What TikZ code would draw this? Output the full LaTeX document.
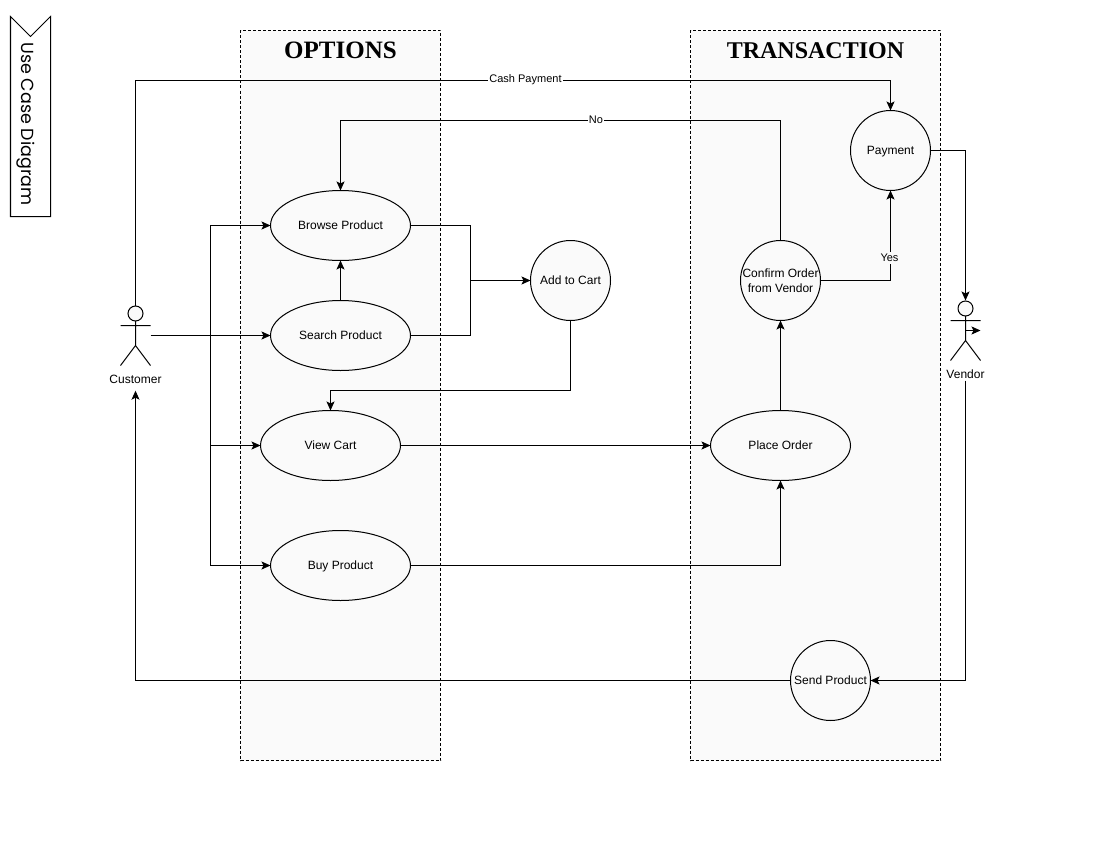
\documentclass[tikz,border=0pt]{standalone}
\usepackage{fontspec}
\setmainfont{Liberation Sans}
\newfontfamily\titlefont{Liberation Serif}
\newfontfamily\bannerfont{Poppins}
\usetikzlibrary{arrows.meta,shapes.geometric,positioning}
\tikzset{
  panel/.style={draw=black,fill=black!2,line width=0.8pt,dash pattern=on 3pt off 2pt},
  conn/.style={draw=black,line width=1pt,-{Stealth[length=9pt,width=8pt,inset=2pt]}},
  plain/.style={draw=black,line width=1pt},
  ucell/.style={ellipse,draw=black,fill=black!2,line width=1pt,minimum width=140pt,minimum height=70pt,inner sep=0pt,outer sep=0pt,font=\fontsize{12}{15}\selectfont,text height=10pt,text depth=2pt},
  ucirc/.style={circle,draw=black,fill=black!2,line width=1pt,minimum size=80pt,inner sep=0pt,outer sep=0pt},
  txt/.style={font=\fontsize{12}{15}\selectfont,align=center,inner sep=0pt,text height=10pt,text depth=2pt},
  edgelabel/.style={txt,font=\fontsize{11}{14}\selectfont,fill=white,inner xsep=1pt,inner ysep=0pt},
  title/.style={font=\titlefont\bfseries\fontsize{25}{25}\selectfont,inner sep=0pt},
  actorbox/.style={minimum width=30pt,minimum height=60pt,inner sep=0pt,outer sep=0pt},
  actorline/.style={draw=black,line width=1pt,fill=black!2}
}
\begin{document}
\begin{tikzpicture}[x=1pt,y=-1pt]
\useasboundingbox (-0.5,-0.5) rectangle (1099.5,850.5);
% panels
\path[panel] (240,30) rectangle (440,760);
\path[panel] (690,30) rectangle (940,760);
\node[title] (optt) at (340,50) {OPTIONS};
\node[title,font=\titlefont\bfseries\fontsize{24}{24}\selectfont] (trans) at (815,50) {TRANSACTION};
% banner
\draw[line width=1pt,fill=white] (10,16) -- (30,36) -- (50,16) -- (50,216) -- (10,216) -- cycle;
\node[rotate=-90,inner sep=0pt,font=\bannerfont\fontsize{17.5}{18}\selectfont] (banner) at (25.5,123.5) {Use Case Diagram};
% use cases
\node[ucell] (browse) at (340,225) {Browse Product};
\node[ucell] (search) at (340,335) {Search Product};
\node[ucell] (view) at (330,445) {View Cart};
\node[ucell] (buy) at (340,565) {Buy Product};
\node[ucell] (place) at (780,445) {Place Order};
\node[ucirc,label={[txt]center:Add to Cart}] (add) at (570,280) {};
\node[ucirc,label={[txt]center:Payment}] (pay) at (890,150) {};
\node[ucirc,label={[txt,text height=,text depth=,yshift=0pt]center:Confirm Order\\from Vendor}] (confirm) at (780,280) {};
\node[ucirc,label={[txt]center:Send Product}] (send) at (830,680) {};
% actors
\node[actorbox] (cust) at (135,335) {};
\node[txt,minimum height=22pt] (custl) at (135,379) {Customer};
\node[actorbox] (vend) at (965,330) {};
\node[txt,minimum height=12pt] (vendl) at (965,374) {Vendor};
\coordinate (branch) at (210,335);
\coordinate (merge) at (470,280);
% connectors
\draw[conn] (cust.east) -- (search.west);
\draw[conn] (branch) |- (browse.west);
\draw[conn] (branch) |- (view.west);
\draw[conn] (branch) |- (buy.west);
\draw[conn] (search.north) -- (browse.south);
\draw[plain] (browse.east) -| (merge);
\draw[plain] (search.east) -| (merge);
\draw[conn] (merge) -- (add.west);
\draw[conn] (add.south) |- (450,390) -| (view.north);
\draw[conn] (view.east) -- (place.west);
\draw[conn] (buy.east) -| (place.south);
\draw[conn] (place.north) -- (confirm.south);
\draw[conn] (confirm.east) -| (pay.south);
\draw[conn] (confirm.north) |- (500,120) -| (browse.north);
\draw[conn] (cust.north) |- (500,80) -| (pay.north);
\draw[conn] (pay.east) -| (vend.north);
\draw[conn] (vendl.south) |- (send.east);
\draw[conn] (send.west) -| (custl.south);
\draw[line width=1pt,-{Stealth[length=9pt,width=8pt,inset=2pt]}] (vend.center) -- (vend.east);
% edge labels
\node[edgelabel] (cash) at (525,78) {Cash Payment};
\node[edgelabel] (nol) at (595.5,119) {No};
\node[edgelabel,fill=black!2] (yesl) at (889,257) {Yes};
% actor figures
\draw[actorline] (135,313) circle (7.5pt);
\draw[plain] (135,320.5) -- (135,345) (120,325) -- (150,325) (120,365) -- (135,345) -- (150,365);
\draw[actorline] (965,308) circle (7.5pt);
\draw[plain] (965,315.5) -- (965,340) (950,320) -- (980,320) (950,360) -- (965,340) -- (980,360);
\end{tikzpicture}
\end{document}
